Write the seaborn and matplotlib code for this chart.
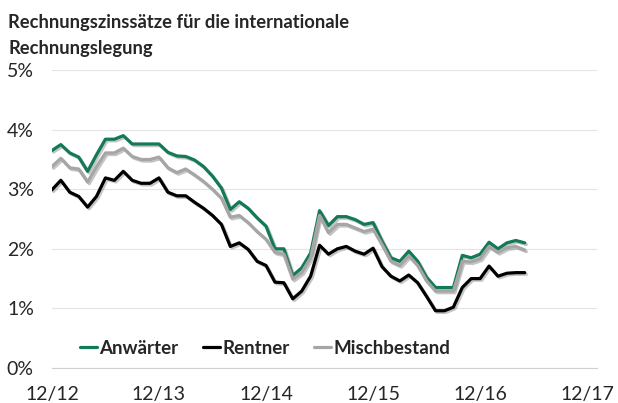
import numpy as np
import pandas as pd
import matplotlib
matplotlib.use("Agg")
import matplotlib.pyplot as plt
import matplotlib.patheffects as pe
import seaborn as sns

# --- Daten (monatlich, 12/2012 bis 05/2017) ---
anwaerter = [3.65, 3.75, 3.61, 3.54, 3.30, 3.58, 3.84, 3.84, 3.90, 3.76, 3.76, 3.76,
             3.76, 3.62, 3.56, 3.55, 3.49, 3.38, 3.22, 3.02, 2.66, 2.79, 2.68, 2.52,
             2.38, 2.00, 2.00, 1.55, 1.68, 1.93, 2.64, 2.39, 2.54, 2.54, 2.49, 2.41,
             2.44, 2.13, 1.85, 1.79, 1.96, 1.79, 1.52, 1.35, 1.35, 1.35, 1.89, 1.85,
             1.91, 2.11, 2.00, 2.10, 2.14, 2.10]
rentner = [2.99, 3.15, 2.95, 2.88, 2.70, 2.88, 3.19, 3.15, 3.30, 3.15, 3.10, 3.10,
           3.19, 2.95, 2.89, 2.89, 2.78, 2.68, 2.56, 2.41, 2.04, 2.10, 1.99, 1.79,
           1.72, 1.44, 1.43, 1.16, 1.29, 1.54, 2.06, 1.91, 2.00, 2.04, 1.96, 1.91,
           2.01, 1.70, 1.54, 1.46, 1.56, 1.43, 1.20, 0.96, 0.96, 1.02, 1.35, 1.50,
           1.50, 1.71, 1.54, 1.59, 1.60, 1.60]
mischbestand = [3.38, 3.52, 3.36, 3.34, 3.12, 3.38, 3.61, 3.61, 3.69, 3.55, 3.50, 3.50,
                3.54, 3.36, 3.28, 3.34, 3.24, 3.13, 3.00, 2.85, 2.53, 2.56, 2.44, 2.29,
                2.16, 1.94, 1.91, 1.49, 1.60, 1.85, 2.56, 2.27, 2.41, 2.41, 2.35, 2.29,
                2.33, 2.07, 1.79, 1.72, 1.88, 1.72, 1.46, 1.29, 1.29, 1.29, 1.79, 1.78,
                1.83, 2.04, 1.94, 2.02, 2.04, 1.98]
serien = ["Anwärter", "Rentner", "Mischbestand"]
farben = ["#127a55", "#000000", "#a6a6a6"]
x_labels = ["12/12", "12/13", "12/14", "12/15", "12/16", "12/17"]

monat = np.arange(len(anwaerter))
df = pd.DataFrame({
    "monat": np.tile(monat, 3),
    "wert": anwaerter + rentner + mischbestand,
    "serie": np.repeat(serien, len(monat)),
})

sns.set_style("white")
plt.rcParams['font.family'] = ['Lato', 'DejaVu Sans']

fig = plt.figure(figsize=(6.18, 4.03), dpi=100)
ax = fig.add_axes([0.084, 0.087, 0.882, 0.739])

sns.lineplot(data=df, x="monat", y="wert", hue="serie", hue_order=serien,
             palette=farben, linewidth=2.3, ax=ax, legend=True)

# leichter Schatten wie im Original
for line in ax.lines:
    line.set_path_effects([pe.SimpleLineShadow(offset=(1.2, -1.2), shadow_color="#808080", alpha=0.45),
                           pe.Normal()])

# --- Achsen ---
ax.set_xlim(0, 61.1)
ax.set_ylim(0, 5)
ax.set_yticks(np.arange(0, 6, 1))
ax.set_yticklabels([f"{i}%" for i in range(6)])
ax.set_xticks(np.arange(0, 61, 12))
ax.set_xticklabels(x_labels)
ax.set_xticks(np.arange(6, 61, 12), minor=True)
ax.set_xlabel("")
ax.set_ylabel("")

ax.grid(axis="y", color="#e4e4e4", linewidth=0.8)
for s in ["top", "right", "left"]:
    ax.spines[s].set_visible(False)
ax.spines["bottom"].set_color("#d0d0d0")
ax.spines["bottom"].set_linewidth(0.8)

ax.tick_params(axis="x", which="both", direction="inout", length=6, width=0.8,
               color="#d0d0d0", labelsize=14, pad=10)
ax.tick_params(axis="y", length=0, labelsize=14, pad=13)

# --- Legende ---
leg = ax.legend(loc="lower left", bbox_to_anchor=(0.02, -0.02), ncol=3, frameon=False,
                handlelength=0.9, handletextpad=0.15, columnspacing=1.3,
                prop={"weight": "bold", "size": 13.5})
for h in leg.get_lines():
    h.set_linewidth(2.3)
    h.set_path_effects([])

# --- Titel ---
fig.text(0.013, 0.965, "Rechnungszinssätze für die internationale\nRechnungslegung",
         ha="left", va="top", fontsize=13.2, fontweight="bold", linespacing=1.6)

fig.savefig("out.png", dpi=100)
